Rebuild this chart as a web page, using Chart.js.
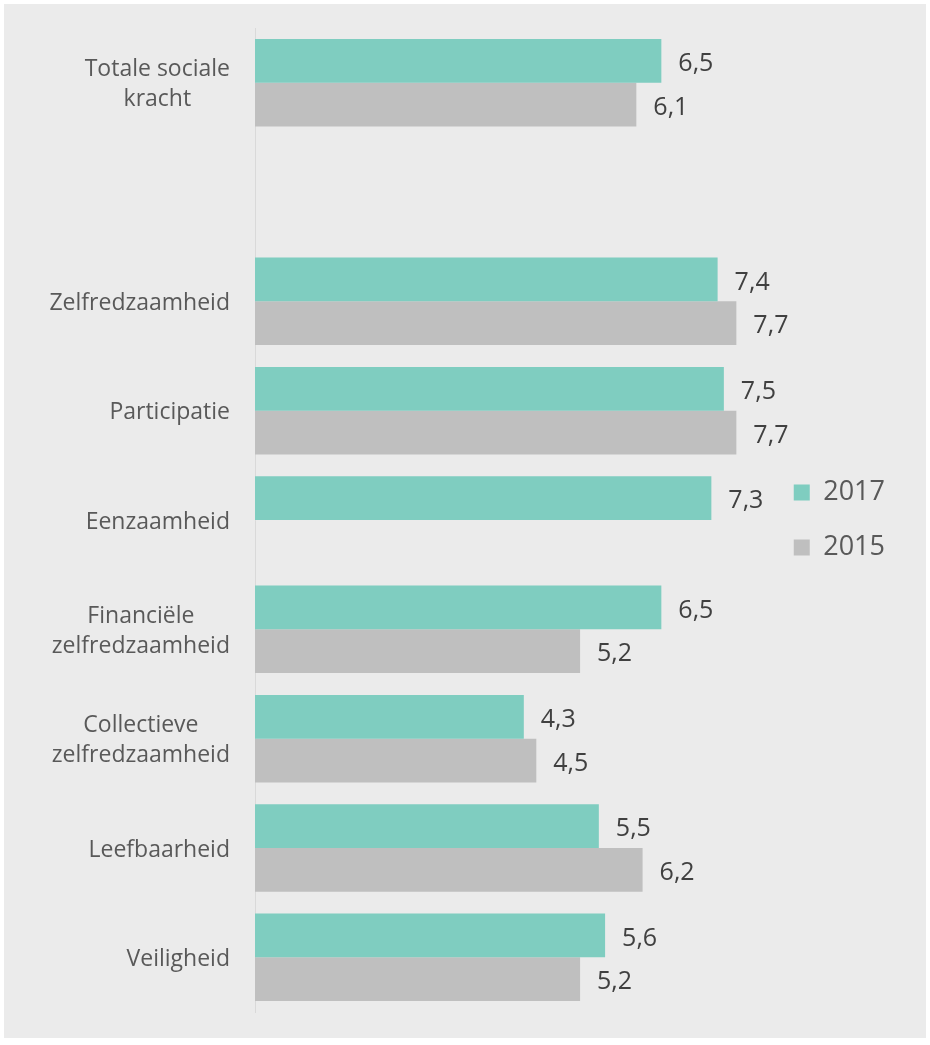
<!DOCTYPE html>
<html>
	<head>
		<meta charset="UTF-8">
		<title>Sociale kracht</title>
		<script src="https://cdn.jsdelivr.net/npm/chart.js"></script>
		<style>
			* {padding: 0; margin: 0;}
			body {background: #ffffff;}
			#wrap {width: 930px; height: 1045px; position: relative;}
		</style>
	</head>
	<body>
		<div id="wrap">
			<canvas id="myChart"></canvas>
		</div>
		<script>
			// categorieen (lege plek tussen totaal en de rest)
			const categories = [
				["Totale sociale", "kracht"],
				"",
				"Zelfredzaamheid",
				"Participatie",
				"Eenzaamheid",
				["Financiële", "zelfredzaamheid"],
				["Collectieve", "zelfredzaamheid"],
				"Leefbaarheid",
				"Veiligheid"
			];
			const values2017 = [6.5, null, 7.4, 7.5, 7.3, 6.5, 4.3, 5.5, 5.6];
			const values2015 = [6.1, null, 7.7, 7.7, null, 5.2, 4.5, 6.2, 5.2];
			const seriesNames = ["2017", "2015"];

			Chart.defaults.font.family = "'Open Sans', sans-serif";

			// grijze achtergrond
			const bgPlugin = {
				id: 'bg',
				beforeDraw(chart) {
					const ctx = chart.ctx;
					ctx.save();
					ctx.fillStyle = '#ebebeb';
					ctx.fillRect(4, 4, 922, 1034);
					ctx.restore();
				}
			};

			// labels links, meerdere regels gecentreerd
			const yLabelPlugin = {
				id: 'yLabels',
				afterDraw(chart) {
					const y = chart.scales.y;
					const ctx = chart.ctx;
					ctx.save();
					ctx.font = "23px 'Open Sans'";
					ctx.fillStyle = '#595959';
					ctx.textBaseline = 'middle';
					ctx.textAlign = 'center';
					categories.forEach((lab, i) => {
						const lines = Array.isArray(lab) ? lab : [lab];
						const w = Math.max(...lines.map(l => ctx.measureText(l).width));
						const cx = y.right - 25 - w / 2;
						const cy = y.getPixelForTick(i) + 2;
						lines.forEach((l, j) => {
							ctx.fillText(l, cx, cy + (j - (lines.length - 1) / 2) * 30);
						});
					});
					ctx.restore();
				}
			};

			// waarden naast de balken
			const valuePlugin = {
				id: 'values',
				afterDatasetsDraw(chart) {
					const ctx = chart.ctx;
					ctx.save();
					ctx.font = "25px 'Open Sans'";
					ctx.fillStyle = '#404040';
					ctx.textBaseline = 'middle';
					ctx.textAlign = 'left';
					chart.data.datasets.forEach((ds, di) => {
						chart.getDatasetMeta(di).data.forEach((el, i) => {
							const v = ds.data[i];
							if (v == null) return;
							ctx.fillText(v.toFixed(1).replace('.', ','), el.x + 17, el.y + 3);
						});
					});
					ctx.restore();
				}
			};

			new Chart(document.getElementById('myChart'), {
				type: 'bar',
				data: {
					labels: categories,
					datasets: [{
						label: seriesNames[0],
						data: values2017,
						backgroundColor: '#7fcdc0',
						categoryPercentage: 0.8,
						barPercentage: 1.0
					}, {
						label: seriesNames[1],
						data: values2015,
						backgroundColor: '#bfbfbf',
						categoryPercentage: 0.8,
						barPercentage: 1.0
					}]
				},
				options: {
					indexAxis: 'y',
					responsive: true,
					maintainAspectRatio: false,
					animation: false,
					layout: {padding: {top: 28, bottom: 33, left: 0, right: 35}},
					scales: {
						x: {
							display: false,
							min: 0,
							max: 8.17
						},
						y: {
							grid: {display: false, drawTicks: false},
							border: {display: true, color: '#d9d9d9', width: 1},
							ticks: {display: false},
							afterFit(scale) { scale.width = 255; }
						}
					},
					plugins: {
						legend: {
							position: 'right',
							align: 'center',
							labels: {
								boxWidth: 16,
								boxHeight: 16,
								padding: 28,
								color: '#595959',
								font: {size: 27}
							}
						},
						tooltip: {enabled: false}
					}
				},
				plugins: [bgPlugin, yLabelPlugin, valuePlugin]
			});
		</script>
	</body>
</html>
